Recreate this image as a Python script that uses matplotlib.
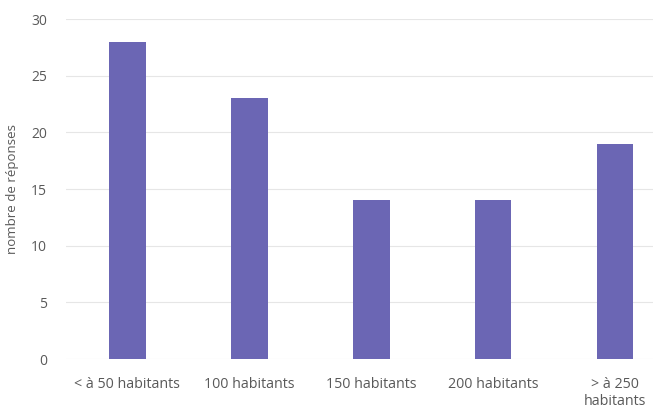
import matplotlib

matplotlib.use("Agg")
import matplotlib.pyplot as plt  # noqa: E402

categories = ["< à 50 habitants", "100 habitants", "150 habitants",
              "200 habitants", "> à 250\nhabitants"]
responses = [28, 23, 14, 14, 19]
y_ticks = [0, 5, 10, 15, 20, 25, 30]

plt.rcParams["font.family"] = ["Open Sans", "DejaVu Sans"]

fig = plt.figure(figsize=(6.53, 4.09), dpi=100)
ax = fig.add_axes([0.1018, 0.1222, 0.898, 0.8313])

x = range(len(categories))
ax.bar(x, responses, width=0.30, color="#6b66b4", zorder=2)

ax.set_xlim(-0.5, 4.31)
ax.set_ylim(0, 30)
ax.set_yticks(y_ticks)
ax.set_xticks(list(x))
ax.set_xticklabels(categories, va="top")
ax.yaxis.grid(True, color="#e6e6e6", lw=0.8, zorder=0)
for s in ax.spines.values():
    s.set_visible(False)
ax.tick_params(axis="both", length=0, colors="#595959")
ax.tick_params(axis="x", pad=13, labelsize=10.3)
ax.tick_params(axis="y", pad=14, labelsize=10)
ax.set_ylabel("nombre de réponses", fontsize=9.5, color="#595959", labelpad=9)

fig.savefig("out.png", dpi=100)
